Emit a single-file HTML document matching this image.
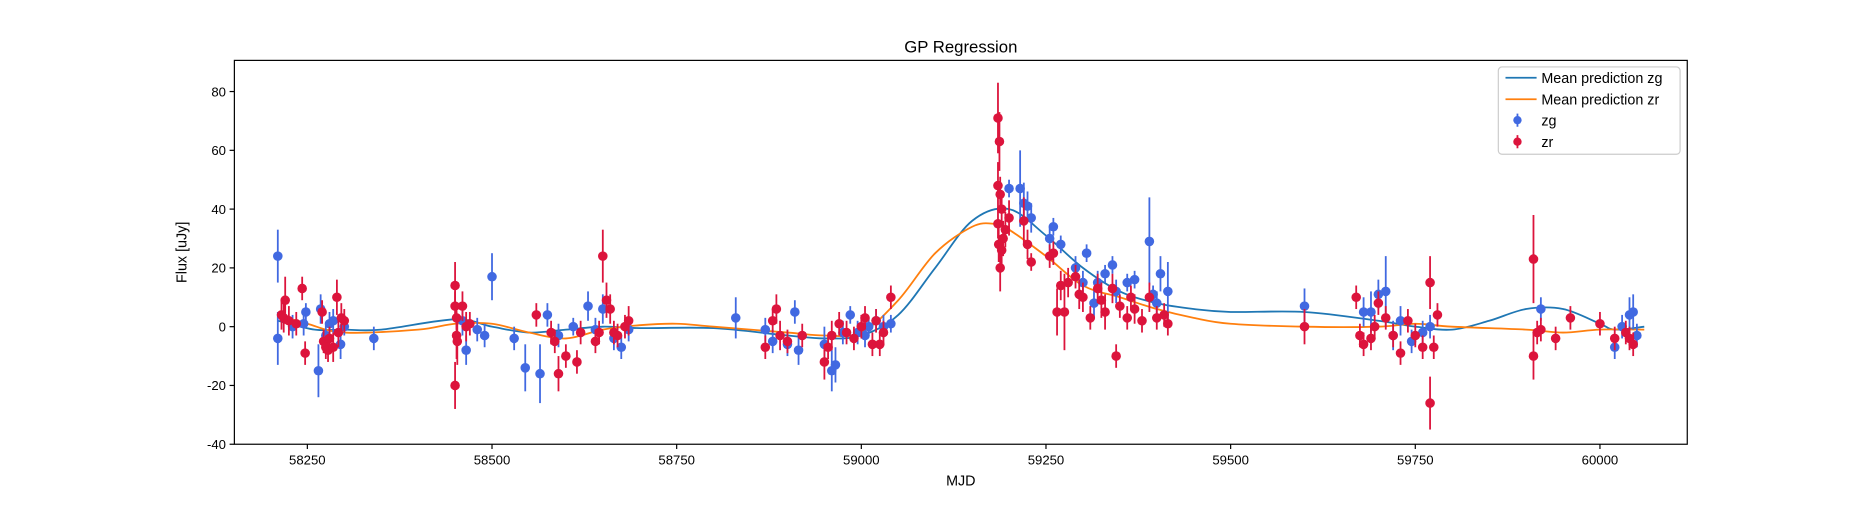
<!DOCTYPE html>
<html><head><meta charset="utf-8"><style>
body{margin:0;background:#fff;}
svg{font-family:"Liberation Sans","DejaVu Sans",sans-serif;}
</style></head><body>
<svg id="chart" width="1875" height="500">
<rect width="1875" height="500" fill="#fff"/>
<g transform="scale(1.19579)">
<text x="803.5" y="44" text-anchor="middle" font-size="14">GP Regression</text>
<g id="plot"></g>
<g id="axes"></g>
<rect x="196" y="50.5" width="1215" height="321" fill="none" stroke="#000" stroke-width="1"/>
<text x="803.5" y="406" text-anchor="middle" font-size="12">MJD</text>
<text transform="translate(156,211) rotate(-90)" text-anchor="middle" font-size="12">Flux [uJy]</text>
<g>
<rect x="1253" y="56" width="152" height="73" rx="3" fill="#fff" fill-opacity="0.8" stroke="#ccc"/>
<line x1="1259" y1="65" x2="1285" y2="65" stroke="#1f77b4" stroke-width="1.5"/>
<text x="1289" y="69.5" font-size="12">Mean prediction zg</text>
<line x1="1259" y1="83" x2="1285" y2="83" stroke="#ff7f0e" stroke-width="1.5"/>
<text x="1289" y="87.5" font-size="12">Mean prediction zr</text>
<line x1="1269" y1="95" x2="1269" y2="106" stroke="#4169e1" stroke-width="1.5"/>
<circle cx="1269" cy="100.5" r="3.5" fill="#4169e1"/>
<text x="1289" y="105" font-size="12">zg</text>
<line x1="1269" y1="113" x2="1269" y2="124" stroke="#dc143c" stroke-width="1.5"/>
<circle cx="1269" cy="118.5" r="3.5" fill="#dc143c"/>
<text x="1289" y="123" font-size="12">zr</text>
</g>
</g>
</svg>
<script>
const xTicks=[58250,58500,58750,59000,59250,59500,59750,60000];
const yTicks=[-40,-20,0,20,40,60,80];
const zgMJD=[58210,58210,58230,58245,58248,58265,58268,58275,58280,58285,58295,58300,58340,58460,58465,58480,58490,58500,58530,58545,58565,58575,58590,58610,58630,58640,58650,58665,58675,58685,58830,58870,58880,58900,58910,58915,58950,58960,58965,58975,58985,58995,59005,59010,59020,59030,59040,59200,59215,59220,59225,59230,59255,59260,59270,59290,59300,59305,59315,59320,59330,59340,59345,59360,59370,59390,59395,59400,59405,59415,59600,59680,59690,59700,59710,59720,59730,59745,59760,59770,59920,60020,60030,60040,60045,60050];
const zgFlux=[24,-4,0,1,5,-15,6,-3,1,2,-6,0,-4,2,-8,-1,-3,17,-4,-14,-16,4,-3,0,7,-1,6,-4,-7,-1,3,-1,-5,-6,5,-8,-6,-15,-13,-2,4,-2,-3,0,2,0,1,47,47,42,41,37,30,34,28,20,15,25,8,15,18,21,12,15,16,29,11,8,18,12,7,5,5,11,12,-3,2,-5,-2,0,6,-7,0,4,5,-3];
const zgErr=[9,9,4,4,3,9,5,4,4,4,5,3,4,5,5,4,4,8,4,8,10,4,4,3,5,4,5,4,4,4,7,4,4,4,4,5,6,7,6,4,3,4,4,3,4,4,3,3,13,7,5,5,4,3,3,4,4,3,5,4,3,3,4,3,3,15,3,4,6,10,6,5,7,5,12,5,5,4,4,4,4,4,4,6,6,4];
const zrMJD=[58215,58218,58220,58225,58235,58243,58247,58270,58272,58275,58278,58280,58285,58290,58292,58296,58300,58450,58450,58452,58452,58453,58450,58460,58465,58470,58560,58580,58585,58590,58600,58615,58620,58640,58645,58650,58655,58660,58665,58670,58680,58685,58870,58880,58885,58890,58900,58920,58950,58955,58960,58970,58980,58990,59000,59005,59015,59020,59025,59030,59040,59185,59187,59185,59188,59190,59185,59192,59186,59190,59188,59195,59200,59220,59225,59230,59255,59260,59265,59275,59270,59280,59290,59295,59300,59310,59320,59325,59330,59340,59345,59350,59360,59365,59370,59380,59390,59400,59410,59415,59600,59670,59675,59680,59690,59695,59700,59710,59720,59730,59740,59750,59760,59770,59770,59775,59780,59910,59910,59915,59920,59940,59960,60000,60020,60035,60040,60045];
const zrFlux=[4,3,9,2,1,13,-9,5,-5,-7,-8,-4,-7,10,-2,3,2,14,7,3,-3,-5,-20,7,0,1,4,-2,-5,-16,-10,-12,-2,-5,-2,24,9,6,-2,-3,0,2,-7,2,6,-3,-5,-3,-12,-7,-3,1,-2,-4,0,3,-6,2,-6,-2,10,71,63,48,45,40,35,30,28,26,20,33,37,36,28,22,24,25,5,5,14,15,17,11,10,3,13,9,5,13,-10,7,3,10,6,2,10,3,4,1,0,10,-3,-6,-4,0,8,3,-3,-9,2,-3,-7,-26,15,-7,4,23,-10,-2,-1,-4,3,1,-4,-2,-4,-6];
const zrErr=[5,5,8,5,4,4,4,4,4,4,4,4,5,6,5,5,4,8,5,4,8,8,8,5,5,4,4,4,4,6,4,4,4,4,4,9,6,5,4,4,4,5,4,4,5,5,4,4,6,4,5,4,4,4,4,4,4,4,4,4,4,12,10,8,6,6,5,6,6,5,8,6,6,8,5,3,4,4,8,13,5,5,4,5,5,4,5,6,6,5,4,4,4,4,5,4,5,4,4,4,6,4,4,4,4,4,4,4,4,4,4,4,4,9,9,4,4,15,8,4,4,4,4,4,4,4,4,4];
const zgCurveX=[58210,58260,58300,58350,58450,58500,58550,58600,58650,58700,58800,58900,58950,59000,59050,59100,59150,59200,59250,59300,59350,59400,59450,59500,59600,59700,59750,59800,59850,59900,59950,60000,60020,60060];
const zgCurveY=[2,-1,-1,-1,2.5,0,-2,-1,0,-0.5,-0.5,-3,-4,-3,4,20,36,40,31,20,12,8,6,5,5,2,0,-1,2,6,6,1,-1,0];
const zrCurveX=[58210,58250,58300,58400,58450,58500,58550,58600,58650,58700,58750,58800,58900,58950,59000,59050,59100,59150,59180,59200,59250,59300,59350,59400,59450,59500,59600,59700,59750,59800,59900,59950,60000,60060];
const zrCurveY=[4,1,-2,-1,1,1,-2,-4,-1,0.5,1,0,-2,-3,-2,9,25,34,35,33,24,14,10,6,3,1,0,0,1,0,-1,-2,-1,-1];

const NS='http://www.w3.org/2000/svg';
const L=196,R=1411,T=50.5,B=371.5;
const xMin=58151.2,xMax=60118.2,yMin=-40,yMax=90.6;
const sx=v=>L+(v-xMin)/(xMax-xMin)*(R-L);
const sy=v=>B-(v-yMin)/(yMax-yMin)*(B-T);
function mk(tag,attrs,parent){const e=document.createElementNS(NS,tag);for(const k in attrs)e.setAttribute(k,attrs[k]);parent.appendChild(e);return e;}
const axes=document.getElementById('axes'),plot=document.getElementById('plot');
xTicks.forEach(t=>{const x=sx(t);
 const l=mk('line',{x1:x,x2:x,y1:B,y2:B+4,stroke:'#000'},axes);
 
 
 const tx=mk('text',{x:x,y:B+17,'text-anchor':'middle','font-size':11},axes);tx.textContent=t;
 
 });
yTicks.forEach(t=>{const y=sy(t);
 const l=mk('line',{x1:L-4,x2:L,y1:y,y2:y,stroke:'#000'},axes);
 
 
 const tx=mk('text',{x:L-7,y:y+4,'text-anchor':'end','font-size':11},axes);tx.textContent=t;
 
 });
function smooth(xs,ys){const p=xs.map((x,i)=>[sx(x),sy(ys[i])]);let d='M'+p[0][0]+','+p[0][1];
 for(let i=0;i<p.length-1;i++){const p0=p[Math.max(0,i-1)],p1=p[i],p2=p[i+1],p3=p[Math.min(p.length-1,i+2)];
 d+=' C'+(p1[0]+(p2[0]-p0[0])/6)+','+(p1[1]+(p2[1]-p0[1])/6)+' '+(p2[0]-(p3[0]-p1[0])/6)+','+(p2[1]-(p3[1]-p1[1])/6)+' '+p2[0]+','+p2[1];}
 return d;}
function points(xs,ys,es,col,name){const g=mk('g',{},plot);
 
 
 xs.forEach((x,i)=>{const cx=sx(x),cy=sy(ys[i]);
  const l=mk('line',{x1:cx,x2:cx,y1:sy(ys[i]+es[i]),y2:sy(ys[i]-es[i]),stroke:col,'stroke-width':1.5},g);
  
  
  const c=mk('circle',{cx:cx,cy:cy,r:4,fill:col},g);
  
  });}
const c1=mk('path',{d:smooth(zgCurveX,zgCurveY),fill:'none',stroke:'#1f77b4','stroke-width':1.5},plot);


const c2=mk('path',{d:smooth(zrCurveX,zrCurveY),fill:'none',stroke:'#ff7f0e','stroke-width':1.5},plot);


points(zgMJD,zgFlux,zgErr,'#4169e1','zg');
points(zrMJD,zrFlux,zrErr,'#dc143c','zr');
</script>
</body></html>
